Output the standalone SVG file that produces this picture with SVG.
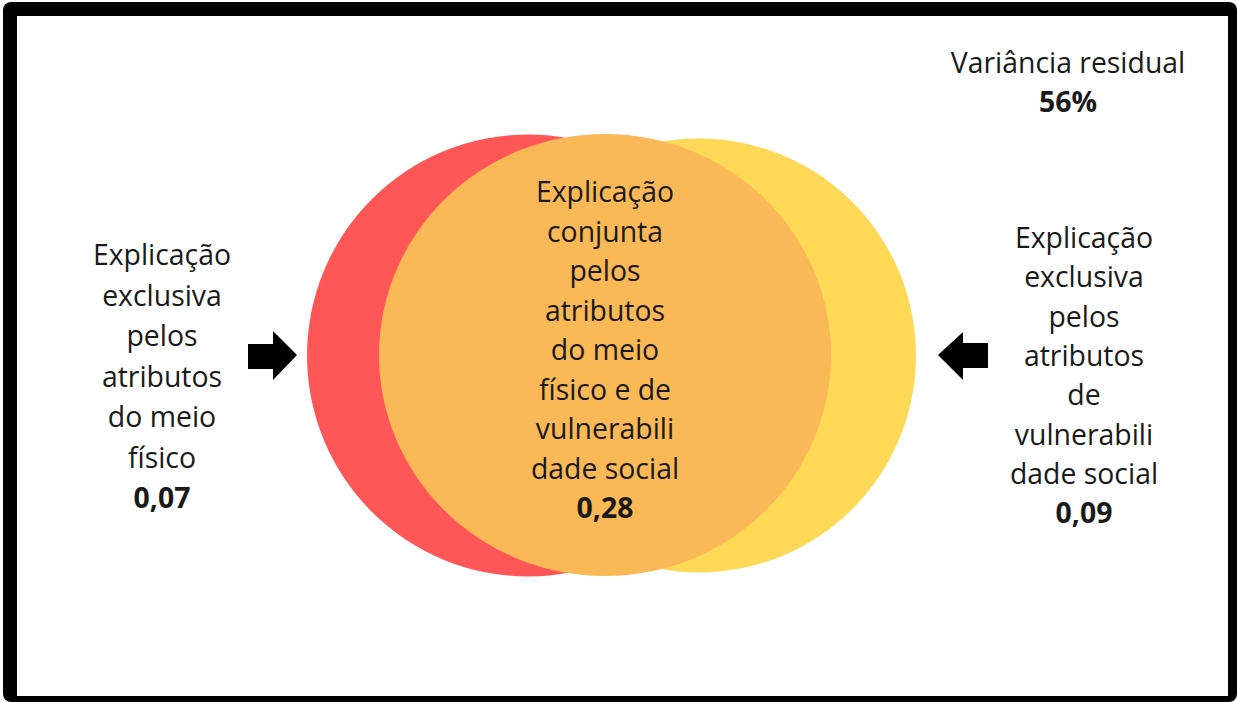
<svg xmlns="http://www.w3.org/2000/svg" width="1237" height="702" viewBox="0 0 1237 702">
<style>
.t{font-family:"Open Sans","Noto Sans","Liberation Sans",sans-serif;font-size:28.4px;fill:#1a1a1a;text-anchor:middle}
.b{font-weight:bold}
.arrow{fill:#000}
</style>
<rect x="3" y="2" width="1234" height="700" rx="8" fill="#000"/>
<rect x="17" y="16" width="1211" height="680" fill="#fff"/>
<g id="circle-fisico"><circle cx="528" cy="355.5" r="221" fill="#ff5757"/></g>
<g id="circle-social"><circle cx="699" cy="355.5" r="217" fill="#fed957"/></g>
<g id="circle-conjunta">
<ellipse cx="605" cy="355" rx="226" ry="221" fill="#fbb856"/>
<text class="t" x="605" y="202">Explicação</text>
<text class="t" x="605" y="241.5">conjunta</text>
<text class="t" x="605" y="281">pelos</text>
<text class="t" x="605" y="320.5">atributos</text>
<text class="t" x="605" y="360">do meio</text>
<text class="t" x="605" y="399.5">físico e de</text>
<text class="t" x="605" y="439">vulnerabili</text>
<text class="t" x="605" y="478.5">dade social</text>
<text class="t b" x="605" y="518">0,28</text>
</g>
<g id="label-fisico">
<text class="t" x="162" y="265">Explicação</text>
<text class="t" x="162" y="305.5">exclusiva</text>
<text class="t" x="162" y="346">pelos</text>
<text class="t" x="162" y="386.5">atributos</text>
<text class="t" x="162" y="427">do meio</text>
<text class="t" x="162" y="467.5">físico</text>
<text class="t b" x="162" y="508">0,07</text>
</g>
<g id="label-social">
<text class="t" x="1084" y="248">Explicação</text>
<text class="t" x="1084" y="287.3">exclusiva</text>
<text class="t" x="1084" y="326.6">pelos</text>
<text class="t" x="1084" y="365.9">atributos</text>
<text class="t" x="1084" y="405.2">de</text>
<text class="t" x="1084" y="444.5">vulnerabili</text>
<text class="t" x="1084" y="483.8">dade social</text>
<text class="t b" x="1084" y="523">0,09</text>
</g>
<g id="label-residual">
<text class="t" x="1068" y="73">Variância residual</text>
<text class="t b" x="1068" y="112">56%</text>
</g>
<g id="connectors">
<polygon class="arrow" points="248,344 273,344 273,331 297,355 273,380 273,369 248,369"/>
<polygon class="arrow" points="988,343 963,343 963,332 938,355 963,380 963,368 988,368"/>
</g>
</svg>
